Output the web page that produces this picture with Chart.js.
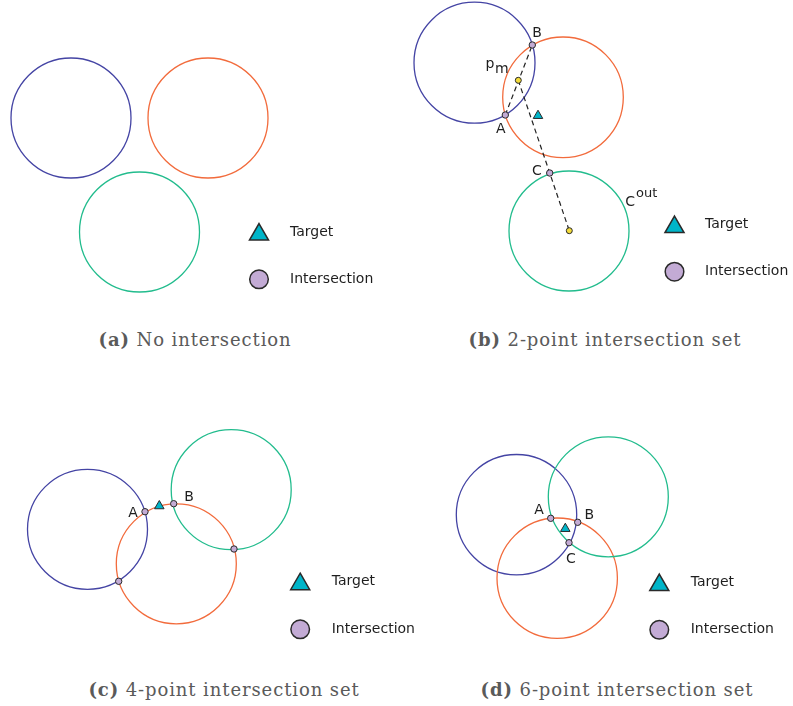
<!DOCTYPE html>
<html>
<head>
<meta charset="utf-8">
<script src="https://cdn.jsdelivr.net/npm/chart.js@4.4.1/dist/chart.umd.min.js"></script>
<style>
  html, body { margin: 0; padding: 0; background: #ffffff; }
  body { width: 793px; height: 706px; position: relative; overflow: hidden; }
  .pane { position: absolute; }
  .cap {
    position: absolute; white-space: nowrap; transform: translateX(-50%);
    font-family: "DejaVu Serif", serif; font-size: 18px; line-height: 22px;
    letter-spacing: 0.9px; color: #5a5a5a;
  }
  .cap b { font-weight: bold; }
</style>
</head>
<body>
<div class="pane" style="left:0px;top:0px;width:400px;height:320px"><canvas id="pa"></canvas></div>
<div class="pane" style="left:400px;top:0px;width:393px;height:320px"><canvas id="pb"></canvas></div>
<div class="pane" style="left:0px;top:400px;width:430px;height:260px"><canvas id="pc"></canvas></div>
<div class="pane" style="left:430px;top:400px;width:363px;height:260px"><canvas id="pd"></canvas></div>

<div class="cap" style="left:195px;top:329px"><b>(a)</b> No intersection</div>
<div class="cap" style="left:605px;top:329px"><b>(b)</b> 2-point intersection set</div>
<div class="cap" style="left:224px;top:679px"><b>(c)</b> 4-point intersection set</div>
<div class="cap" style="left:617px;top:679px"><b>(d)</b> 6-point intersection set</div>

<script>
// ---------------- DATA (units: 1 unit = 10 px of the reference) ----------------
// circle order: blue, orange, green
const circleColors = ['#4444a4', '#f26b3c', '#22bc8d'];
const legendLabels = ['Target', 'Intersection'];

// (a) No intersection
const aCx = [7.1, 20.8, 13.95];
const aCy = [20.2, 20.2, 8.8];
const aR  = [6.0, 6.0, 6.0];

// (b) 2-point intersection set
const bCx = [7.45, 16.3, 16.9];
const bCy = [25.73, 22.27, 8.9];
const bR  = [6.05, 6.03, 6.0];
const bIx = [10.53, 13.23, 14.97];
const bIy = [20.5, 27.5, 14.7];
const bIlab = ['A', 'B', 'C'];
const bTx = [13.8];
const bTy = [20.43];
const bMx = [11.83, 16.93];          // p_m and centre of C^out
const bMy = [23.97, 8.93];
const bMlab = ['p', ''];

// (c) 4-point intersection set
const cCx = [8.75, 17.63, 23.12];
const cCy = [13.07, 9.62, 17.03];
const cR  = [6.0, 6.0, 6.0];
const cIx = [14.5, 17.37, 11.87, 23.4];
const cIy = [14.83, 15.63, 7.87, 11.1];
const cIlab = ['A', 'B', '', ''];
const cTx = [15.93];
const cTy = [15.4];

// (d) 6-point intersection set
const dCx = [8.65, 12.72, 17.83];
const dCy = [14.53, 8.18, 16.32];
const dR  = [6.02, 6.02, 6.0];
const dIx = [12.07, 14.77, 13.9];
const dIy = [14.17, 13.77, 11.73];
const dIlab = ['A', 'B', 'C'];
const dTx = [13.53];
const dTy = [13.13];

// ---------------- STYLE ----------------
const TARGET_FILL = '#00b5c9';
const INTER_FILL = '#c3abd5';
const MID_FILL = '#f4dc3a';
const EDGE = '#2a2a2a';
const LABEL_FONT = '14px "DejaVu Sans", sans-serif';
const SUP_FONT = '13px "DejaVu Sans", sans-serif';

const pts = (xs, ys) => xs.map((x, i) => ({ x: x, y: ys[i] }));

function circleDataset(cx, cy, r) {
  return {
    label: 'circles',
    data: pts(cx, cy),
    pointStyle: 'circle',
    pointRadius: (ctx) => {
      const s = ctx.chart.scales.x;
      if (!s || ctx.dataIndex === undefined) return 0;
      return Math.abs(s.getPixelForValue(r[ctx.dataIndex]) - s.getPixelForValue(0));
    },
    pointBackgroundColor: 'rgba(0,0,0,0)',
    pointBorderColor: circleColors,
    pointBorderWidth: 1.3,
    clip: false,
    order: 5
  };
}
function pointDataset(label, xs, ys, style, radius, fill) {
  return {
    label: label, data: pts(xs, ys), pointStyle: style, pointRadius: radius,
    pointBackgroundColor: fill, pointBorderColor: EDGE, pointBorderWidth: 1,
    clip: false, order: 1
  };
}
function dashDataset(x0, y0, x1, y1) {
  return {
    label: 'dash', data: [{ x: x0, y: y0 }, { x: x1, y: y1 }], showLine: true,
    borderColor: '#222222', borderWidth: 1.2, borderDash: [5, 3.5],
    pointRadius: 0, clip: false, order: 3
  };
}

// labels attached to points
const labelPlugin = {
  id: 'ptLabels',
  afterDatasetsDraw(chart, args, opts) {
    const ctx = chart.ctx;
    ctx.save();
    ctx.fillStyle = '#1e1e1e';
    (opts.items || []).forEach(it => {
      const el = chart.getDatasetMeta(it.ds).data[it.i];
      if (!el || !it.text) return;
      const bx = el.x + it.dx, by = el.y + it.dy;
      ctx.font = LABEL_FONT;
      ctx.textBaseline = 'alphabetic';
      ctx.textAlign = 'center';
      ctx.fillText(it.text, bx, by);
      const w = ctx.measureText(it.text).width;
      ctx.textAlign = 'left';
      if (it.sub) { ctx.font = LABEL_FONT; ctx.fillText(it.sub, bx + w / 2 + 0.5, by + 5); }
      if (it.sup) { ctx.font = SUP_FONT; ctx.fillText(it.sup, bx + w / 2 + 1, by - 9); }
    });
    ctx.restore();
  }
};

// small two-row key
const keyPlugin = {
  id: 'miniKey',
  afterDraw(chart, args, o) {
    if (!o || o.x === undefined) return;
    const ctx = chart.ctx;
    ctx.save();
    ctx.lineWidth = 1.5;
    ctx.strokeStyle = EDGE;
    const r = 11, cx = o.x, cy = o.y1 + 2.5;
    ctx.beginPath();
    for (let k = 0; k < 3; k++) {
      const a = k * 2 * Math.PI / 3;
      const px = cx + Math.sin(a) * r, py = cy - Math.cos(a) * r;
      if (k === 0) ctx.moveTo(px, py); else ctx.lineTo(px, py);
    }
    ctx.closePath();
    ctx.fillStyle = TARGET_FILL; ctx.fill(); ctx.stroke();
    ctx.beginPath();
    ctx.arc(o.x, o.y2, 9.3, 0, Math.PI * 2);
    ctx.fillStyle = INTER_FILL; ctx.fill(); ctx.stroke();
    ctx.fillStyle = '#1e1e1e';
    ctx.font = LABEL_FONT;
    ctx.textAlign = 'left';
    ctx.textBaseline = 'middle';
    ctx.fillText(legendLabels[0], o.tx, o.y1);
    ctx.fillText(legendLabels[1], o.tx, o.y2);
    ctx.restore();
  }
};

function makePanel(id, W, H, datasets, labels, key) {
  const cv = document.getElementById(id);
  cv.width = W; cv.height = H;
  cv.style.width = W + 'px'; cv.style.height = H + 'px';
  return new Chart(cv, {
    type: 'scatter',
    data: { datasets: datasets },
    options: {
      responsive: false, animation: false, events: [],
      devicePixelRatio: 1,
      layout: { padding: 0, autoPadding: false },
      scales: {
        x: { type: 'linear', min: 0, max: W / 10, display: false },
        y: { type: 'linear', min: 0, max: H / 10, display: false }
      },
      plugins: {
        legend: { display: false },
        tooltip: { enabled: false },
        ptLabels: { items: labels },
        miniKey: key
      }
    },
    plugins: [labelPlugin, keyPlugin]
  });
}

// (a)
makePanel('pa', 400, 320,
  [circleDataset(aCx, aCy, aR)],
  [],
  { x: 259, y1: 232, y2: 279.3, tx: 290 });

// (b)
makePanel('pb', 393, 320,
  [
    pointDataset('intersections', bIx, bIy, 'circle', 3.2, INTER_FILL),
    pointDataset('target', bTx, bTy, 'triangle', 5.5, TARGET_FILL),
    pointDataset('midpoints', bMx, bMy, 'circle', 3.0, MID_FILL),
    dashDataset(bIx[0], bIy[0], bIx[1], bIy[1]),
    dashDataset(bMx[0], bMy[0], bMx[1], bMy[1]),
    circleDataset(bCx, bCy, bR)
  ],
  [
    { ds: 0, i: 0, text: bIlab[0], dx: -4.6, dy: 17.8 },
    { ds: 0, i: 1, text: bIlab[1], dx: 4.7, dy: -8 },
    { ds: 0, i: 2, text: bIlab[2], dx: -12.7, dy: 2 },
    { ds: 2, i: 0, text: bMlab[0], dx: -28.3, dy: -12, sub: 'm' },
    { ds: 5, i: 2, text: 'C', dx: 61.2, dy: -24.7, sup: 'out' }
  ],
  { x: 274.5, y1: 224.5, y2: 271.7, tx: 305 });

// (c)
makePanel('pc', 430, 260,
  [
    pointDataset('intersections', cIx, cIy, 'circle', 3.2, INTER_FILL),
    pointDataset('target', cTx, cTy, 'triangle', 5.5, TARGET_FILL),
    circleDataset(cCx, cCy, cR)
  ],
  [
    { ds: 0, i: 0, text: cIlab[0], dx: -12, dy: 5.3 },
    { ds: 0, i: 1, text: cIlab[1], dx: 15.3, dy: -2.4 }
  ],
  { x: 300.2, y1: 181.7, y2: 229.3, tx: 331.7 });

// (d)
makePanel('pd', 363, 260,
  [
    pointDataset('intersections', dIx, dIy, 'circle', 3.2, INTER_FILL),
    pointDataset('target', dTx, dTy, 'triangle', 5.5, TARGET_FILL),
    circleDataset(dCx, dCy, dR)
  ],
  [
    { ds: 0, i: 0, text: dIlab[0], dx: -11.7, dy: -3.9 },
    { ds: 0, i: 1, text: dIlab[1], dx: 11.6, dy: -3.3 },
    { ds: 0, i: 2, text: dIlab[2], dx: 2, dy: 20.7 }
  ],
  { x: 229.3, y1: 182.5, y2: 229.8, tx: 260.7 });
</script>
</body>
</html>
